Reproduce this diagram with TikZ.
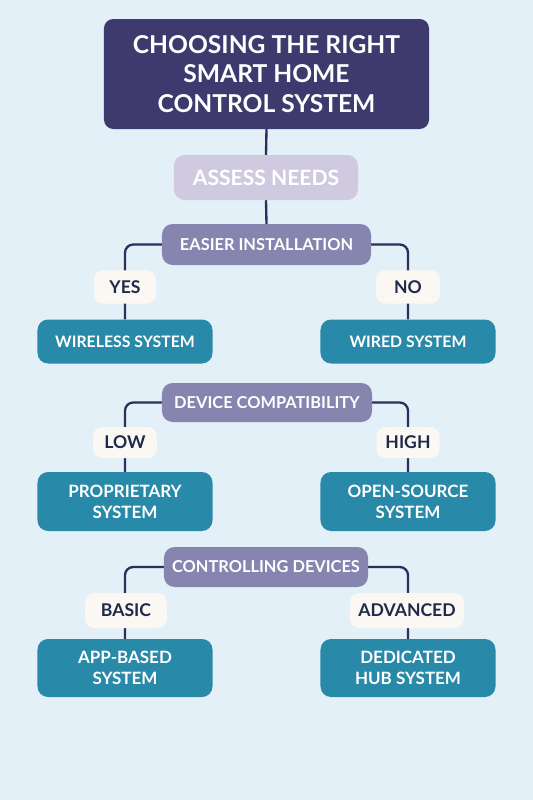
\documentclass[tikz,border=0pt]{standalone}
\usepackage{fontspec}
\setmainfont{Lato}
\usepackage{xcolor}
\usepackage{tikz}
\usetikzlibrary{positioning}
\definecolor{mybg}{HTML}{E4F0F8}
\definecolor{mytitle}{HTML}{3F3A6E}
\definecolor{mylilac}{HTML}{D0CAE0}
\definecolor{mypurple}{HTML}{8585AF}
\definecolor{mycream}{HTML}{FBF8F3}
\definecolor{myteal}{HTML}{2889A8}
\definecolor{mynavy}{HTML}{2D2E5A}
\definecolor{myink}{HTML}{1E2A4A}
\pgfdeclarelayer{back}
\pgfdeclarelayer{mid}
\pgfsetlayers{back,mid,main}
\tikzset{
  titlebox/.style={rounded corners=8pt, fill=mytitle, text=white, align=center, font=\bfseries\fontsize{21}{25}\selectfont, minimum width=9.75cm, minimum height=3.3cm},
  stepbox/.style={rounded corners=9pt, fill=mylilac, text=white, font=\bfseries\fontsize{18}{21}\selectfont, minimum width=5.52cm, minimum height=1.35cm},
  askbox/.style={rounded corners=9pt, fill=mypurple, text=white, font=\bfseries\fontsize{14}{17}\selectfont, minimum height=1.2cm},
  answerbox/.style={rounded corners=8pt, fill=mycream, text=myink, font=\bfseries\fontsize{15}{18}\selectfont, minimum height=1.0cm},
  resultbox/.style={rounded corners=9pt, fill=myteal, text=white, align=center, font=\bfseries\fontsize{14.5}{18}\selectfont, minimum width=5.25cm},
  link/.style={draw=mynavy, line width=2pt, rounded corners=7pt}
}

\begin{document}
\begin{tikzpicture}[x=0.03cm, y=-0.03cm]
  % Title and first step
  \node[titlebox] (title) at (266.5,74) {CHOOSING THE RIGHT\\SMART HOME\\CONTROL SYSTEM};
  \node[stepbox] (assess) at (266,177.5) {ASSESS NEEDS};

  % Installation
  \node[askbox, minimum width=6.27cm, minimum height=1.23cm] (install) at (266.5,244.5) {EASIER INSTALLATION};
  \node[answerbox, minimum width=1.86cm] (yes) at (125,287) {YES};
  \node[answerbox, minimum width=1.92cm] (no) at (408,287) {NO};
  \node[resultbox, minimum height=1.32cm, font=\bfseries\fontsize{13.5}{18}\selectfont] (wireless) at (125,341.5) {WIRELESS SYSTEM};
  \node[resultbox, minimum height=1.32cm, font=\bfseries\fontsize{13.5}{18}\selectfont] (wired) at (408,341.5) {WIRED SYSTEM};

  % Compatibility
  \node[askbox, minimum width=6.3cm, minimum height=1.17cm] (compat) at (267,402.5) {DEVICE COMPATIBILITY};
  \node[answerbox, minimum width=1.92cm, minimum height=0.93cm] (low) at (125,442.5) {LOW};
  \node[answerbox, minimum width=1.89cm, minimum height=0.93cm] (high) at (408,442.5) {HIGH};
  \node[resultbox, minimum height=1.77cm] (proprietary) at (125,501.5) {PROPRIETARY\\SYSTEM};
  \node[resultbox, minimum height=1.77cm] (opensource) at (408,501.5) {OPEN-SOURCE\\SYSTEM};

  % Control
  \node[askbox, minimum width=6.12cm] (control) at (266,567) {CONTROLLING DEVICES};
  \node[answerbox, minimum width=2.46cm, minimum height=1.05cm] (basic) at (126,610.5) {BASIC};
  \node[answerbox, minimum width=3.42cm, minimum height=1.05cm] (advanced) at (407,610.5) {ADVANCED};
  \node[resultbox, minimum height=1.74cm] (appbased) at (125,668) {APP-BASED\\SYSTEM};
  \node[resultbox, minimum height=1.74cm] (dedicated) at (408,668) {DEDICATED\\HUB SYSTEM};

  % Connectors
  \begin{pgfonlayer}{mid}
    \draw[link] (title.south) -- (assess.north);
    \draw[link] (assess.south) -- (install.north);
    \draw[link] (install.west) -| (wireless.north);
    \draw[link] (install.east) -| (wired.north);
    \draw[link] (compat.west) -| (proprietary.north);
    \draw[link] (compat.east) -| (opensource.north);
    \draw[link] (control.west) -| (appbased.north);
    \draw[link] (control.east) -| (dedicated.north);
  \end{pgfonlayer}

  % Background
  \begin{pgfonlayer}{back}
    \fill[mybg] (0,0) rectangle (533,800);
  \end{pgfonlayer}
  \useasboundingbox (0,0) rectangle (533,800);
\end{tikzpicture}
\end{document}
